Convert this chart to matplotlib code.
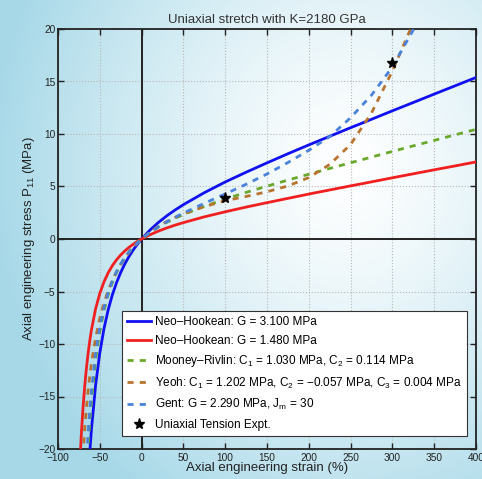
import numpy as np
import matplotlib
matplotlib.use("Agg")
import matplotlib.pyplot as plt
from matplotlib.colors import to_rgb

plt.rcParams['font.family'] = ['Liberation Sans', 'DejaVu Sans']
plt.rcParams['mathtext.fontset'] = 'custom'
plt.rcParams['mathtext.rm'] = 'Liberation Sans'
plt.rcParams['mathtext.it'] = 'Liberation Sans'

# ---- data ----
strain = [-74, -72, -70, -68, -66, -64, -62, -60, -55, -50, -45, -40, -35, -30, -25,
          -20, -15, -10, -5, 0, 10, 20, 30, 40, 50, 75, 100, 125, 150, 175, 200,
          225, 250, 275, 300, 325, 350, 375, 400]

neo_hookean_g31 = [-45.0, -38.67, -33.51, -29.28, -25.76, -22.80, -20.29, -18.14, -13.91,
                   -10.85, -8.54, -6.75, -5.32, -4.16, -3.19, -2.36, -1.66, -1.04, -0.49,
                   0.0, 0.85, 1.57, 2.20, 2.76, 3.27, 4.41, 5.43, 6.36, 7.25, 8.12, 8.96,
                   9.78, 10.60, 11.40, 12.21, 13.00, 13.80, 14.59, 15.38]

neo_hookean_g148 = [-21.50, -18.46, -16.00, -13.98, -12.30, -10.89, -9.69, -8.66, -6.64,
                    -5.18, -4.08, -3.22, -2.54, -1.98, -1.52, -1.13, -0.79, -0.50, -0.23,
                    0.0, 0.40, 0.75, 1.05, 1.32, 1.56, 2.11, 2.59, 3.04, 3.46, 3.87, 4.28,
                    4.67, 5.06, 5.44, 5.83, 6.21, 6.59, 6.96, 7.34]

mooney_rivlin = [-42.67, -35.85, -30.49, -26.19, -22.69, -19.81, -17.41, -15.39, -11.52,
                 -8.81, -6.82, -5.31, -4.14, -3.20, -2.43, -1.79, -1.24, -0.77, -0.36,
                 0.0, 0.62, 1.14, 1.58, 1.98, 2.33, 3.12, 3.80, 4.44, 5.03, 5.61, 6.17,
                 6.72, 7.26, 7.80, 8.34, 8.87, 9.39, 9.92, 10.44]

yeoh = [-27.06, -23.32, -20.39, -18.04, -16.09, -14.45, -13.05, -11.84, -9.40,
        -7.55, -6.09, -4.92, -3.94, -3.12, -2.42, -1.81, -1.27, -0.80, -0.38,
        0.0, 0.66, 1.20, 1.67, 2.06, 2.41, 3.08, 3.65, 4.05, 4.50, 5.05, 5.85,
        7.10, 9.00, 12.00, 16.00, 20.60, 27.00, 35.00, 45.00]

gent = [-39.55, -33.25, -28.30, -24.35, -21.14, -18.50, -16.30, -14.44, -10.87,
        -8.36, -6.52, -5.11, -4.00, -3.11, -2.37, -1.75, -1.23, -0.77, -0.36,
        0.0, 0.63, 1.16, 1.63, 2.06, 2.47, 3.40, 4.29, 5.21, 6.19, 7.28, 8.45,
        9.75, 11.55, 13.70, 16.39, 19.92, 24.85, 32.28, 44.84]

expt_strain = [100, 300]
expt_stress = [3.9, 16.8]

labels = [
    'Neo\u2013Hookean: G = 3.100 MPa',
    'Neo\u2013Hookean: G = 1.480 MPa',
    'Mooney\u2013Rivlin: C$_1$ = 1.030 MPa, C$_2$ = 0.114 MPa',
    'Yeoh: C$_1$ = 1.202 MPa, C$_2$ = \u22120.057 MPa, C$_3$ = 0.004 MPa',
    'Gent: G = 2.290 MPa, J$_m$ = 30',
    'Uniaxial Tension Expt.',
]

W, H = 482, 479
fig = plt.figure(figsize=(W / 100, H / 100), dpi=100)

# background gradient (slide photo look)
bg = fig.add_axes([0, 0, 1, 1], zorder=-10)
yy, xx = np.mgrid[0:1:200j, 0:1:200j]
d = np.sqrt(((xx - 0.72) / 0.75) ** 2 + ((yy - 0.35) / 0.85) ** 2)
t = np.clip(d, 0, 1) ** 1.3
c0 = np.array(to_rgb('#ffffff'))
c1 = np.array(to_rgb('#a6d8e8'))
img = c0[None, None, :] * (1 - t[..., None]) + c1[None, None, :] * t[..., None]
bg.imshow(img, extent=[0, 1, 0, 1], aspect='auto', origin='upper')
bg.axis('off')

ax = fig.add_axes([58 / W, 1 - 449 / H, 418 / W, 420 / H])
ax.set_facecolor('none')
ax.grid(True, ls=':', color='#b8b8b8', lw=0.8, zorder=0.5)
ax.set_axisbelow(True)

ax.axhline(0, color='#222222', lw=1.4, zorder=2)
ax.axvline(0, color='#222222', lw=1.4, zorder=2)

dash = (0, (2.2, 2.2))
ax.plot(strain, neo_hookean_g31, color='#1010f0', lw=2.0, label=labels[0], zorder=3)
ax.plot(strain, neo_hookean_g148, color='#f02020', lw=2.0, label=labels[1], zorder=3)
ax.plot(strain, mooney_rivlin, color='#6aa82c', lw=2.0, ls=dash, label=labels[2], zorder=4)
ax.plot(strain, yeoh, color='#b8742e', lw=2.0, ls=dash, label=labels[3], zorder=4)
ax.plot(strain, gent, color='#4a82dc', lw=2.0, ls=dash, label=labels[4], zorder=4)
ax.plot(expt_strain, expt_stress, ls='none', marker='*', color='black', ms=8,
        label=labels[5], zorder=6)

ax.set_xlim(-100, 400)
ax.set_ylim(-20, 20)
ax.set_xticks(np.arange(-100, 401, 50))
ax.set_yticks(np.arange(-20, 21, 5))
ax.set_xticklabels([('\u2212' if v < 0 else '') + str(abs(v)) for v in range(-100, 401, 50)])
ax.set_yticklabels([('\u2212' if v < 0 else '') + str(abs(v)) for v in range(-20, 21, 5)])
ax.tick_params(direction='in', top=True, right=True, labelsize=7.3, length=4,
               width=1, pad=2, colors='#222222')
ax.tick_params(axis='x', pad=3)
for s in ax.spines.values():
    s.set_linewidth(1.3)
    s.set_color('#222222')

ax.set_title('Uniaxial stretch with K=2180 GPa', fontsize=9.5, color='#333333', pad=4)
ax.set_xlabel('Axial engineering strain (%)', fontsize=9.5, color='#222222', labelpad=-1)
ax.set_ylabel('Axial engineering stress $P_{11}$ (MPa)', fontsize=9.5, color='#222222',
              labelpad=1)

leg = ax.legend(loc='lower left', bbox_to_anchor=(0.153, 0.031), borderaxespad=0,
                fontsize=8.45, frameon=True, fancybox=False, edgecolor='#333333',
                framealpha=1, handlelength=2.0, handletextpad=0.35, labelspacing=0.55,
                borderpad=0.45)
leg.get_frame().set_linewidth(0.8)
leg.set_zorder(10)

fig.savefig('out.png', dpi=100)
